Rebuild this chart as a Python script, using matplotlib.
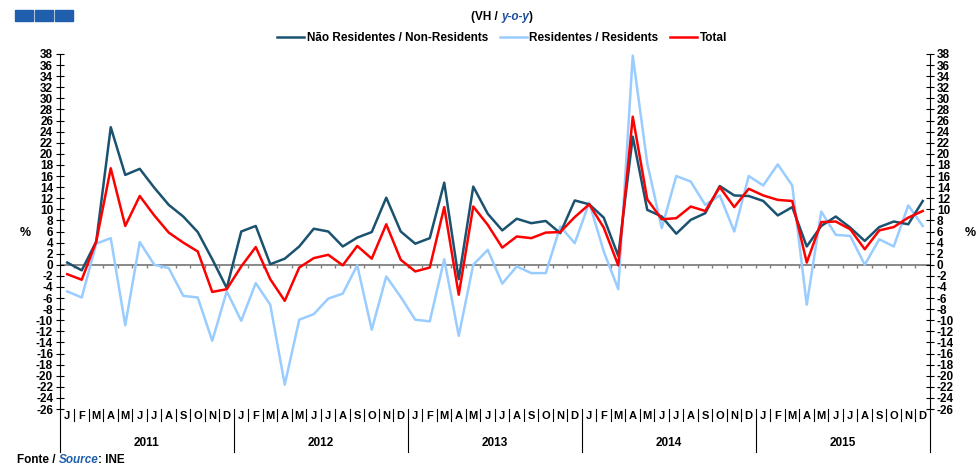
import matplotlib
matplotlib.use("Agg")
import matplotlib.pyplot as plt
from matplotlib.lines import Line2D
from matplotlib.patches import Rectangle
import numpy as np

plt.rcParams['font.family'] = ['Liberation Sans', 'DejaVu Sans']
plt.rcParams['font.weight'] = 'bold'

years = ['2011', '2012', '2013', '2014', '2015']
months = ['J', 'F', 'M', 'A', 'M', 'J', 'J', 'A', 'S', 'O', 'N', 'D']

non_residents = [
    0.4, -1.0, 4.2, 24.8, 16.2, 17.3, 13.9, 10.8, 8.7, 5.9, 1.0, -4.2,
    6.0, 7.0, 0.1, 1.1, 3.3, 6.5, 6.0, 3.3, 4.9, 5.9, 12.1, 6.0,
    3.8, 4.8, 14.8, -2.6, 14.1, 9.2, 6.2, 8.3, 7.5, 7.9, 5.7, 11.6,
    10.9, 8.5, 1.6, 23.1, 9.9, 8.7, 5.6, 8.1, 9.3, 14.2, 12.5, 12.4,
    11.5, 8.9, 10.4, 3.3, 7.0, 8.7, 6.7, 4.3, 6.8, 7.8, 7.3, 11.5,
]
residents = [
    -4.8, -5.9, 3.8, 4.8, -10.9, 4.1, 0.0, -0.6, -5.6, -5.9, -13.7, -4.8,
    -10.1, -3.3, -7.2, -21.6, -9.9, -8.9, -6.1, -5.2, -0.1, -11.7, -2.1, -5.8,
    -9.9, -10.2, 1.0, -12.8, 0.0, 2.7, -3.4, -0.3, -1.5, -1.5, 6.9, 3.9,
    11.2, 2.4, -4.4, 37.7, 18.3, 6.6, 16.0, 15.0, 10.8, 12.5, 6.0, 16.0,
    14.3, 18.1, 14.3, -7.2, 9.6, 5.4, 5.2, 0.0, 4.6, 3.3, 10.7, 7.0,
]
total = [
    -1.7, -2.7, 4.2, 17.4, 7.0, 12.4, 8.9, 5.8, 4.0, 2.4, -4.9, -4.4,
    -0.3, 3.2, -2.6, -6.5, -0.5, 1.2, 1.8, -0.1, 3.4, 1.1, 7.3, 0.9,
    -1.2, -0.5, 10.4, -5.4, 10.5, 7.2, 3.1, 5.1, 4.8, 5.8, 5.9, 8.6,
    10.9, 6.7, -0.1, 26.7, 11.8, 8.2, 8.4, 10.5, 9.7, 14.0, 10.4, 13.7,
    12.5, 11.7, 11.5, 0.4, 7.7, 7.8, 6.4, 2.8, 6.2, 6.8, 8.5, 9.7,
]
yticks = list(range(-26, 39, 2))

W, H = 978, 467
fig = plt.figure(figsize=(W / 100, H / 100), dpi=100)
ax_l, ax_r, ax_t, ax_b = 60, 930, 54, 409
ax = fig.add_axes([ax_l / W, 1 - ax_b / H, (ax_r - ax_l) / W, (ax_b - ax_t) / H])

n = len(total)
x = np.arange(n) + 0.5

c_dark = '#1B5270'
c_light = '#99CCFF'
c_red = '#FF0000'
c_blue = '#1F5FAD'

ax.axhline(0, color='#808080', lw=1.3, zorder=1)
ax.vlines(np.arange(1, n), -0.6, 0, color='#808080', lw=1.0, zorder=1)

l1, = ax.plot(x, non_residents, color=c_dark, lw=1.8, zorder=3, label='Não Residentes / Non-Residents')
l2, = ax.plot(x, residents, color=c_light, lw=1.8, zorder=2, label='Residentes / Residents')
l3, = ax.plot(x, total, color=c_red, lw=1.8, zorder=4, label='Total')

ax.set_xlim(0, n)
ax.set_ylim(-26, 38)
ax.set_yticks(yticks)
ax.set_yticklabels([str(v) for v in yticks])
ax.set_xticks([])
for s in ax.spines.values():
    s.set_visible(False)
ax.tick_params(axis='y', direction='inout', length=6, width=0.8, color='black',
               left=True, right=True, labelleft=True, labelright=True,
               labelsize=8.5, pad=2)
for lab in ax.get_yticklabels():
    lab.set_fontweight('bold')

# spines extended below the plot
ybot = -(452 - ax_b) / (ax_b - ax_t)
for xa in (0, 1):
    ax.add_line(Line2D([xa, xa], [ybot, 1], transform=ax.transAxes, color='black', lw=0.8, clip_on=False))

# month separators and labels
tr = ax.get_xaxis_transform()
msep = -(421 - ax_b) / (ax_b - ax_t)
ysep = -(452 - ax_b) / (ax_b - ax_t)
for k in range(1, n):
    ax.add_line(Line2D([k, k], [0, ysep if k % 12 == 0 else msep], transform=tr,
                       color='black', lw=0.8, clip_on=False))
ymon = -(416 - ax_b) / (ax_b - ax_t)
yyear = -(443 - ax_b) / (ax_b - ax_t)
for yi, yr in enumerate(years):
    for mi, m in enumerate(months):
        ax.text(yi * 12 + mi + 0.5, ymon, m, transform=tr, ha='center', va='center',
                fontsize=8, fontweight='bold')
    ax.text(yi * 12 + 6, yyear, yr, transform=tr, ha='center', va='center',
            fontsize=8.5, fontweight='bold')

# % labels
fig.text(25 / W, 1 - 233 / H, '%', ha='center', va='center', fontsize=9, fontweight='bold')
fig.text(970 / W, 1 - 233 / H, '%', ha='center', va='center', fontsize=9, fontweight='bold')

# legend
fig.legend(handles=[l1, l2, l3], loc='center', bbox_to_anchor=(502 / W, 1 - 38 / H), ncol=3,
           frameon=False, handlelength=2.3, handletextpad=0.2,
           columnspacing=1.0, prop={'weight': 'bold', 'size': 8.5})

renderer = fig.canvas.get_renderer()


def chain(pieces, x0_px, y_px, center=False):
    """Draw text pieces one after the other starting at x0_px."""
    objs = []
    for txt, kw in pieces:
        t = fig.text(0, 1 - y_px / H, txt, ha='left', va='center', fontsize=8.5,
                     fontweight='bold', **kw)
        objs.append(t)
    widths = [o.get_window_extent(renderer).width for o in objs]
    start = x0_px - (sum(widths) / 2 if center else 0)
    for o, w in zip(objs, widths):
        o.set_x(start / W)
        start += w


# subtitle
chain([('(VH / ', {}), ('y-o-y', {'fontstyle': 'italic', 'color': '#1F4E9A'}), (')', {})],
      502, 17, center=True)

# blue squares
for x0 in (15, 35, 55):
    fig.patches.append(Rectangle((x0 / W, 1 - 20.5 / H), 18 / W, 10.5 / H,
                                 transform=fig.transFigure, color=c_blue, zorder=5))

# source
chain([('Fonte / ', {}), ('Source', {'fontstyle': 'italic', 'color': c_blue}), (': INE', {})],
      17, 460)

fig.savefig('out.png', dpi=100)
